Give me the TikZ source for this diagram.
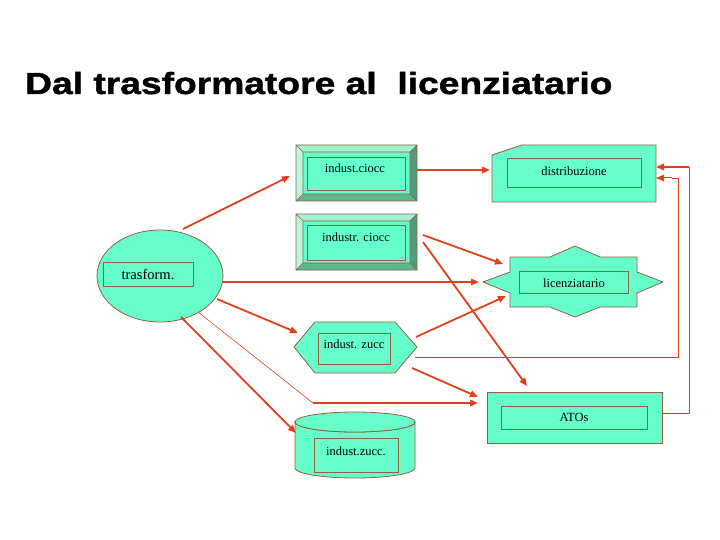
\documentclass[tikz,border=0pt]{standalone}
\usepackage{fontspec}
\setmainfont{Liberation Serif}
\newfontfamily\titlefont[FakeStretch=1.22,FakeBold=1.5]{Liberation Sans}
\usetikzlibrary{arrows.meta}
\definecolor{fillc}{HTML}{66FFCC}
\definecolor{edgec}{HTML}{94603C}
\definecolor{arrc}{HTML}{E0401A}
\definecolor{bevlt}{HTML}{A4F2D4}
\definecolor{bevll}{HTML}{B8F8E2}
\definecolor{bevdr}{HTML}{4C9E7E}
\definecolor{bevdb}{HTML}{5CB890}
\begin{document}
\begin{tikzpicture}[x=1pt,y=-1pt,
  shp/.style={fill=fillc, draw=edgec, line width=0.8pt},
  inbox/.style={draw=edgec, line width=0.8pt, inner sep=0pt},
  lbl/.style={font=\fontsize{12.5}{14}\selectfont, inner sep=0pt},
  arr/.style={draw=arrc, line width=1.8pt, -{Triangle[length=8pt,width=6.5pt]}},
  thinl/.style={draw=arrc, line width=0.9pt},
  bevel/.pic={
    \fill[fillc] (0,0) rectangle (121,56);
    \fill[bevlt] (0,0) -- (121,0) -- (114,7) -- (7,7) -- cycle;
    \fill[bevll] (0,0) -- (7,7) -- (7,49) -- (0,56) -- cycle;
    \fill[bevdr] (121,0) -- (121,56) -- (114,49) -- (114,7) -- cycle;
    \fill[bevdb] (0,56) -- (121,56) -- (114,49) -- (7,49) -- cycle;
    \draw[edgec, line width=0.7pt] (0,0) rectangle (121,56) (7,7) rectangle (114,49)
      (0,0) -- (7,7) (121,0) -- (114,7) (121,56) -- (114,49) (0,56) -- (7,49);
  }]
\useasboundingbox (0,0) rectangle (720,540);

% title
\node[anchor=base west, inner sep=0pt] (title) at (25,94)
  {\titlefont\bfseries\fontsize{30.5}{34}\selectfont Dal trasformatore al\ \ licenziatario};

% beveled boxes
\pic at (296,145) {bevel};
\pic at (296,214) {bevel};
\node[inbox, minimum width=98pt, minimum height=33pt] (ciocc1) at (356,173.5) {};
\node[lbl] (ciocc1-t) at (355,168) {indust.ciocc};
\node[inbox, minimum width=98pt, minimum height=35pt] (ciocc2) at (356,242.5) {};
\node[lbl] (ciocc2-t) at (356,237) {industr. ciocc};

% distribuzione
\path[shp] (492,155) -- (522,145) -- (656,145) -- (656,202) -- (492,202) -- cycle;
\node[inbox, minimum width=134pt, minimum height=29pt] (distr) at (574,172.5) {};
\node[lbl] (distr-t) at (574,171) {distribuzione};

% trasform
\path[shp] (160,276) ellipse[x radius=63, y radius=46];
\node[inbox, minimum width=90pt, minimum height=24pt] (trasf) at (148,274) {};
\node[lbl, font=\fontsize{14.5}{16}\selectfont] (trasf-t) at (148,274) {trasform.};

% licenziatario
\path[shp] (510,257) -- (550,257) -- (575,246) -- (600,257) -- (637,257) -- (637,272)
  -- (663,282) -- (637,293) -- (637,307) -- (600,307) -- (575,317) -- (550,307)
  -- (510,307) -- (510,293) -- (483,282) -- (510,272) -- cycle;
\node[inbox, minimum width=109pt, minimum height=22pt] (lic) at (573.5,282) {};
\node[lbl] (lic-t) at (574,283) {licenziatario};

% indust. zucc (hexagon)
\path[shp] (294,347) -- (315,322) -- (395,322) -- (417,347) -- (395,373) -- (315,373) -- cycle;
\node[inbox, minimum width=72pt, minimum height=31pt] (hex) at (354,348.5) {};
\node[lbl] (hex-t) at (354,344) {indust. zucc};

% indust.zucc. (cylinder)
\path[shp] (295,422) -- (295,468) arc[start angle=180, end angle=0, x radius=60, y radius=10]
  -- (415,422) arc[start angle=0, end angle=180, x radius=60, y radius=10] -- cycle;
\path[shp] (355,422) ellipse[x radius=60, y radius=10];
\node[inbox, minimum width=84pt, minimum height=34pt] (cyl) at (356,455) {};
\node[lbl] (cyl-t) at (356,451) {indust.zucc.};

% ATOs
\path[shp] (487,392) rectangle (662,443);
\node[inbox, minimum width=146pt, minimum height=23pt] (atos) at (574,417.5) {};
\node[lbl] (atos-t) at (574,417) {ATOs};

% connector end points
\coordinate (trasf-o1) at (183,229);
\coordinate (ciocc1-i) at (290,176);
\coordinate (trasf-o2) at (223,282);
\coordinate (lic-i1) at (479,282);
\coordinate (trasf-o3) at (217,299);
\coordinate (hex-i) at (298,333);
\coordinate (trasf-o4) at (198,312);
\coordinate (bend1) at (313,403);
\coordinate (atos-i1) at (478,403);
\coordinate (trasf-o5) at (181,317);
\coordinate (cyl-i) at (296,433);
\coordinate (ciocc1-o) at (417,170);
\coordinate (distr-i1) at (490,170);
\coordinate (ciocc2-o1) at (423,235);
\coordinate (lic-i2) at (503,264);
\coordinate (ciocc2-o2) at (423,242);
\coordinate (atos-i2) at (527,386);
\coordinate (hex-o1) at (416,337);
\coordinate (lic-i3) at (506,296);
\coordinate (hex-o2) at (415,357);
\coordinate (corner1) at (678,357);
\coordinate (corner2) at (678,178);
\coordinate (distr-i2) at (656,178);
\coordinate (hex-o3) at (412,368);
\coordinate (atos-i3) at (478,397);
\coordinate (atos-o) at (662,413);
\coordinate (corner3) at (689,413);
\coordinate (corner4) at (689,167);
\coordinate (distr-i3) at (656,167);

% connectors
\draw[arr] (trasf-o1) -- (ciocc1-i);
\draw[arr] (trasf-o2) -- (lic-i1);
\draw[arr] (trasf-o3) -- (hex-i);
\draw[thinl, line width=0.6pt] (trasf-o4) -- (bend1);
\draw[arr] (bend1) -- (atos-i1);
\draw[arr] (trasf-o5) -- (cyl-i);
\draw[arr] (ciocc1-o) -- (distr-i1);
\draw[arr] (ciocc2-o1) -- (lic-i2);
\draw[arr] (ciocc2-o2) -- (atos-i2);
\draw[arr] (hex-o1) -- (lic-i3);
\draw[thinl] (hex-o2) -- (corner1) -- (corner2) -- ([xshift=-6pt]corner2);
\draw[arr, line width=1pt] ([xshift=-6pt]corner2) -- (distr-i2);
\draw[arr] (hex-o3) -- (atos-i3);
\draw[thinl] (atos-o) -- (corner3) -- (corner4);
\draw[arr] (corner4) -- (distr-i3);
\end{tikzpicture}
\end{document}
